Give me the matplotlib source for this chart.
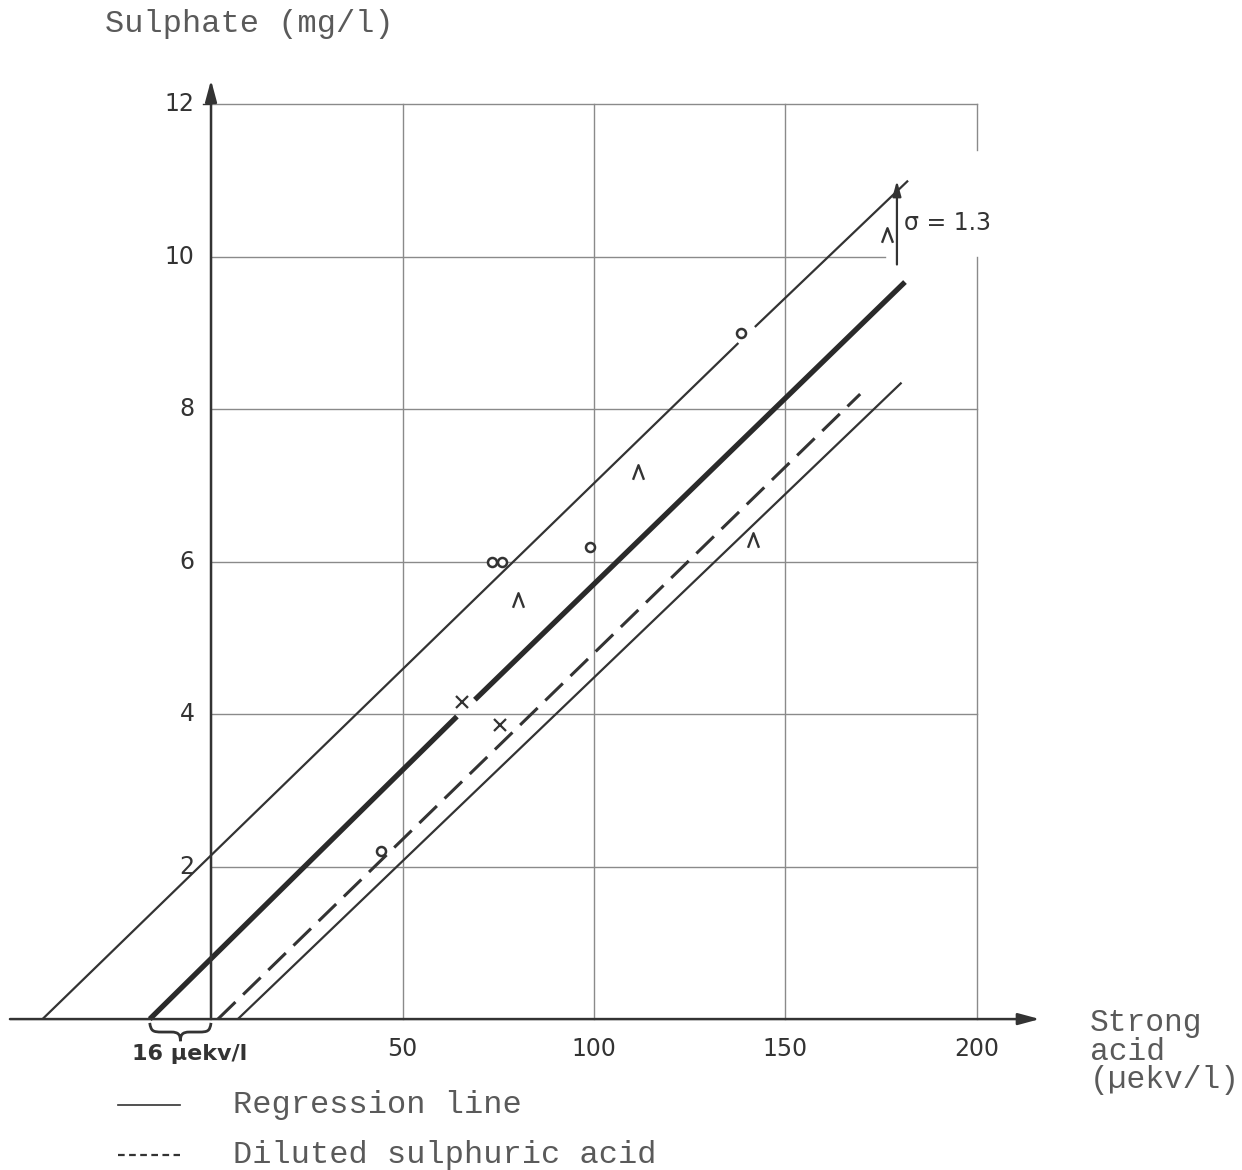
"""Sulphate vs strong acid: regression line, +/- sigma band, diluted H2SO4."""

import matplotlib
matplotlib.use("Agg")
import matplotlib.pyplot as plt
from matplotlib.path import Path
from matplotlib.patches import PathPatch

# ---------------------------------------------------------------------------
# Data
# ---------------------------------------------------------------------------
x_ticks = [50, 100, 150, 200]
y_ticks = [2, 4, 6, 8, 10, 12]

# line segments as (start, end) pairs, each list = consecutive pairs
upper_x = [-44.0, 137.7, 142.0, 182.0]
upper_y = [0.0, 8.87, 9.08, 11.0]
regression_x = [-16.0, 64.2, 68.9, 181.2]
regression_y = [0.0, 3.97, 4.19, 9.67]
acid_x = [1.8, 169.5]
acid_y = [0.0, 8.2]
lower_x = [7.0, 180.3]
lower_y = [0.0, 8.35]

circles_x = [44.3, 73.3, 75.9, 99.0, 138.3]
circles_y = [2.2, 6.0, 6.0, 6.2, 9.0]
carets_x = [80.2, 111.6, 141.6, 176.4]
carets_y = [5.5, 7.18, 6.29, 10.29]
crosses_x = [65.5, 75.5]
crosses_y = [4.16, 3.86]

sigma = 1.3
sigma_x = 179.1
sigma_lo, sigma_hi = 9.9, 11.0
offset = 16  # µekv/l intercept offset

INK = "#333333"
GRID = "#8a8a8a"
TXT = "#5a5a5a"
MONO = ["Liberation Mono", "DejaVu Sans Mono"]
SANS = ["DejaVu Sans"]

fig = plt.figure(figsize=(12.42, 11.7), dpi=100)
ax = fig.add_axes([0, 0, 1, 1])
ax.set_xlim(-55.1, 269.2)
ax.set_ylim(-1.98, 13.37)
ax.axis("off")

# grid
for xt in x_ticks:
    if xt == 200:
        ax.plot([xt, xt], [0, 10], color=GRID, lw=1.0)
        ax.plot([xt, xt], [11.4, 12], color=GRID, lw=1.0)
    else:
        ax.plot([xt, xt], [0, 12], color=GRID, lw=1.0)
for yt in y_ticks:
    x_end = 176 if yt == 10 else 200
    ax.plot([0, x_end], [yt, yt], color=GRID, lw=1.0)

# axes with arrows
ax.annotate("", xy=(216.4, 0), xytext=(-52.5, 0),
            arrowprops=dict(arrowstyle="-|>,head_length=1.3,head_width=0.35",
                            lw=1.8, color=INK, shrinkA=0, shrinkB=0))
ax.annotate("", xy=(0, 12.32), xytext=(0, 0),
            arrowprops=dict(arrowstyle="-|>,head_length=1.3,head_width=0.35",
                            lw=1.8, color=INK, shrinkA=0, shrinkB=0))
ax.plot([-2.2, 0], [12, 12], color=INK, lw=1.0)

# tick labels
for yt in y_ticks:
    ax.text(-4.3, yt, str(yt), ha="right", va="center", fontsize=17,
            family=SANS, color=INK)
for xt in x_ticks:
    ax.text(xt, -0.39, str(xt), ha="center", va="center", fontsize=17,
            family=SANS, color=INK)


def segments(xs, ys, **kw):
    for i in range(0, len(xs), 2):
        ax.plot(xs[i:i + 2], ys[i:i + 2], solid_capstyle="butt", **kw)


segments(upper_x, upper_y, color=INK, lw=1.6)
segments(lower_x, lower_y, color=INK, lw=1.6)
segments(regression_x, regression_y, color="#2a2a2a", lw=3.8)
ax.plot(acid_x, acid_y, color=INK, lw=2.2, ls=(0, (8, 3.5)), dash_capstyle="butt")

# observations
caret = Path([(-0.75, -1), (0, 1), (0.75, -1)], [Path.MOVETO, Path.LINETO, Path.LINETO])
ax.plot(circles_x, circles_y, "o", ms=6.5, mfc="white", mec=INK, mew=1.8, zorder=5)
ax.plot(carets_x, carets_y, ls="none", marker=caret, ms=10.5, mew=1.7,
        mfc="none", mec=INK, zorder=5)
ax.plot(crosses_x, crosses_y, "x", ms=8, mew=1.6, color=INK, zorder=5)

# sigma arrow
ax.annotate("", xy=(sigma_x, sigma_hi), xytext=(sigma_x, sigma_lo),
            arrowprops=dict(arrowstyle="-|>,head_length=0.9,head_width=0.25",
                            lw=1.6, color=INK, shrinkA=0, shrinkB=0))
ax.text(sigma_x + 1.8, 10.45, f"σ = {sigma}", ha="left", va="center",
        fontsize=17, family=SANS, color=INK)

# brace under the 16 µekv/l offset
x0, x1 = -offset, 0
xm, w = (x0 + x1) / 2, x1 - x0
top, h = -0.05, 0.12
verts = [
    (x0, top),
    (x0 + 0.02 * w, top - 0.9 * h), (x0 + 0.05 * w, top - h), (x0 + 0.2 * w, top - h),
    (xm - 0.15 * w, top - h),
    (xm - 0.03 * w, top - h), (xm, top - 1.3 * h), (xm, top - 2 * h),
    (xm, top - 1.3 * h), (xm + 0.03 * w, top - h), (xm + 0.15 * w, top - h),
    (x1 - 0.2 * w, top - h),
    (x1 - 0.05 * w, top - h), (x1 - 0.02 * w, top - 0.9 * h), (x1, top),
]
codes = ([Path.MOVETO] + [Path.CURVE4] * 3 + [Path.LINETO] + [Path.CURVE4] * 6
         + [Path.LINETO] + [Path.CURVE4] * 3)
ax.add_patch(PathPatch(Path(verts, codes), fc="none", ec=INK, lw=2.0))
ax.text(-5.5, -0.46, f"{offset} µekv/l", ha="center", va="center",
        fontsize=16, family=SANS, color=INK, weight="bold")

# axis titles
ax.text(-27.6, 13.05, "Sulphate (mg/l)", ha="left", va="center",
        fontsize=23, family=MONO, color=TXT)
ax.text(229.5, 0.14, "Strong\nacid\n(µekv/l)", ha="left", va="top",
        fontsize=22.5, family=MONO, color=TXT, linespacing=0.92)

# legend
ax.plot([-24.3, -8.1], [-1.13, -1.13], color=INK, lw=1.2)
ax.plot([-24.3, -8.1], [-1.78, -1.78], color=INK, lw=1.6, ls=(0, (3, 2)))
ax.text(5.7, -1.13, "Regression line", ha="left", va="center",
        fontsize=23, family=MONO, color=TXT)
ax.text(5.7, -1.78, "Diluted sulphuric acid", ha="left", va="center",
        fontsize=23, family=MONO, color=TXT)

fig.savefig("out.png", dpi=100)
